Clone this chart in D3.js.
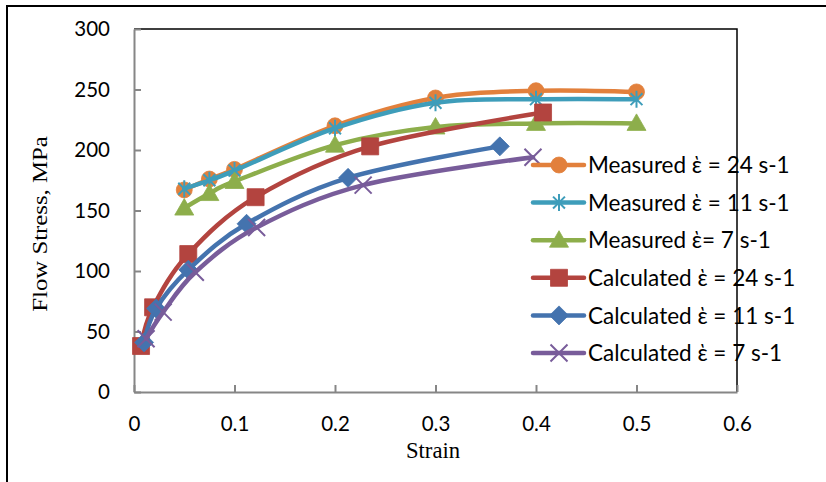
<!DOCTYPE html>
<html>
<head>
<meta charset="utf-8">
<script src="https://cdn.jsdelivr.net/npm/d3@7/dist/d3.min.js"></script>
<style>
  body { margin: 0; background: #fff; }
  .tick text { font-family: Lato, 'Open Sans', sans-serif; font-size: 20.5px; fill: #000; }
  .axis-title { font-family: 'Liberation Serif', 'Times New Roman', serif; font-size: 21px; fill: #000; }
  .legend-text { font-family: Lato, 'Open Sans', sans-serif; font-size: 22.5px; fill: #000; }
</style>
</head>
<body>
<script>
const xTicks = [0, 0.1, 0.2, 0.3, 0.4, 0.5, 0.6];
const yTicks = [0, 50, 100, 150, 200, 250, 300];

const seriesNames = [
  'Measured \u1F72 = 24 s-1',
  'Measured \u1F72 = 11 s-1',
  'Measured \u1F72= 7 s-1',
  'Calculated \u1F72 = 24 s-1',
  'Calculated \u1F72 = 11 s-1',
  'Calculated \u1F72 = 7 s-1'
];

// [strain, flow stress MPa]
const measured24 = [[0.05, 167], [0.075, 176], [0.1, 184], [0.2, 220], [0.3, 243], [0.4, 249], [0.5, 248]];
const measured11 = [[0.05, 168], [0.075, 175], [0.1, 183], [0.2, 218], [0.3, 239], [0.4, 242], [0.5, 242]];
const measured7 = [[0.05, 152], [0.075, 164], [0.1, 174], [0.2, 204], [0.3, 219], [0.4, 222], [0.5, 222]];
const calculated24 = [[0.007, 38], [0.019, 70], [0.054, 114], [0.121, 161], [0.235, 203], [0.407, 231]];
const calculated11 = [[0.01, 41], [0.022, 69], [0.054, 101], [0.112, 139], [0.213, 177], [0.364, 203]];
const calculated7 = [[0.012, 44], [0.029, 66], [0.061, 99], [0.122, 136], [0.228, 171], [0.397, 194]];

const seriesData = [measured24, measured11, measured7, calculated24, calculated11, calculated7];
const colors = ['#E2803C', '#3E9DBA', '#8DAE4B', '#B3443F', '#4473AE', '#785C9A'];
const markers = ['circle', 'asterisk', 'triangle', 'square', 'diamond', 'cross'];

const width = 826;
const height = 482;
const plot = { left: 134, right: 737, top: 29, bottom: 392 };

const svg = d3.select('body')
  .append('svg')
  .attr('width', width)
  .attr('height', height);

// outer frame
svg.append('rect')
  .attr('x', 7)
  .attr('y', 6)
  .attr('width', 900)
  .attr('height', 600)
  .style('fill', 'none')
  .style('stroke', '#000')
  .style('stroke-width', 2);

const xScale = d3.scaleLinear().domain([0, 0.6]).range([plot.left, plot.right]);
const yScale = d3.scaleLinear().domain([0, 300]).range([plot.bottom, plot.top]);

// top and right border of plot area
svg.append('path')
  .attr('d', 'M' + plot.left + ',' + plot.top + 'H' + plot.right + 'V' + plot.bottom)
  .style('fill', 'none')
  .style('stroke', '#000')
  .style('stroke-width', 1.5);

const xAxis = d3.axisBottom(xScale)
  .tickValues(xTicks)
  .tickFormat((d) => d === 0 ? '0' : d3.format('.1f')(d))
  .tickSizeInner(-7)
  .tickSizeOuter(0)
  .tickPadding(24);

const yAxis = d3.axisLeft(yScale)
  .tickValues(yTicks)
  .tickSizeInner(-7)
  .tickSizeOuter(0)
  .tickPadding(24);

svg.append('g')
  .attr('class', 'x-axis')
  .attr('transform', 'translate(0,' + plot.bottom + ')')
  .call(xAxis);

svg.append('g')
  .attr('class', 'y-axis')
  .attr('transform', 'translate(' + plot.left + ',0)')
  .call(yAxis);

svg.selectAll('.domain, .tick line')
  .style('stroke', '#868686')
  .style('stroke-width', 2);

svg.append('text')
  .attr('class', 'axis-title')
  .attr('transform', 'translate(433,458) scale(1.08,1.12)')
  .style('text-anchor', 'middle')
  .text('Strain');

svg.append('text')
  .attr('class', 'axis-title')
  .attr('transform', 'translate(47,224) rotate(-90) scale(1.18,1)')
  .style('text-anchor', 'middle')
  .text('Flow Stress, MPa');

const markerPath = (type) => {
  const s = 8.5;
  const d = 0.7 * s;
  switch (type) {
    case 'circle': return d3.symbol(d3.symbolCircle, 200)();
    case 'triangle': return 'M0,-9.5L9.5,7L-9.5,7Z';
    case 'square': return 'M-8.5,-8.5H8.5V8.5H-8.5Z';
    case 'diamond': return 'M0,-9.5L9.5,0L0,9.5L-9.5,0Z';
    case 'asterisk': return 'M0,' + (-s) + 'V' + s + 'M' + (-d) + ',' + (-d) + 'L' + d + ',' + d + 'M' + (-d) + ',' + d + 'L' + d + ',' + (-d);
    case 'cross': return 'M' + (-s) + ',' + (-s) + 'L' + s + ',' + s + 'M' + (-s) + ',' + s + 'L' + s + ',' + (-s);
  }
};

const drawMarker = (g, type, color) => {
  const stroked = type === 'asterisk' || type === 'cross';
  g.append('path')
    .attr('d', markerPath(type))
    .style('fill', stroked ? 'none' : color)
    .style('stroke', color)
    .style('stroke-width', stroked ? 2 : 0.8);
};

const line = d3.line()
  .x((d) => xScale(d[0]))
  .y((d) => yScale(d[1]))
  .curve(d3.curveCardinal.tension(0));

seriesData.forEach((data, i) => {
  svg.append('path')
    .datum(data)
    .attr('d', line)
    .style('fill', 'none')
    .style('stroke', colors[i])
    .style('stroke-width', 4.5)
    .style('stroke-linecap', 'round')
    .style('stroke-linejoin', 'round');

  svg.append('g')
    .selectAll('g')
    .data(data)
    .enter()
    .append('g')
    .attr('transform', (d) => 'translate(' + xScale(d[0]) + ',' + yScale(d[1]) + ')')
    .each(function () { drawMarker(d3.select(this), markers[i], colors[i]); });
});

// legend
const legend = svg.append('g')
  .selectAll('g')
  .data(seriesNames)
  .enter()
  .append('g')
  .attr('transform', (d, i) => 'translate(533,' + (165 + i * 37.6) + ')');

legend.append('line')
  .attr('x1', 0)
  .attr('x2', 51)
  .style('stroke', (d, i) => colors[i])
  .style('stroke-width', 4.5)
  .style('stroke-linecap', 'round');

legend.append('g')
  .attr('transform', 'translate(26,0)')
  .each(function (d, i) { drawMarker(d3.select(this), markers[i], colors[i]); });

legend.append('text')
  .attr('class', 'legend-text')
  .attr('x', 55)
  .attr('dy', '0.36em')
  .text((d) => d);
</script>
</body>
</html>
